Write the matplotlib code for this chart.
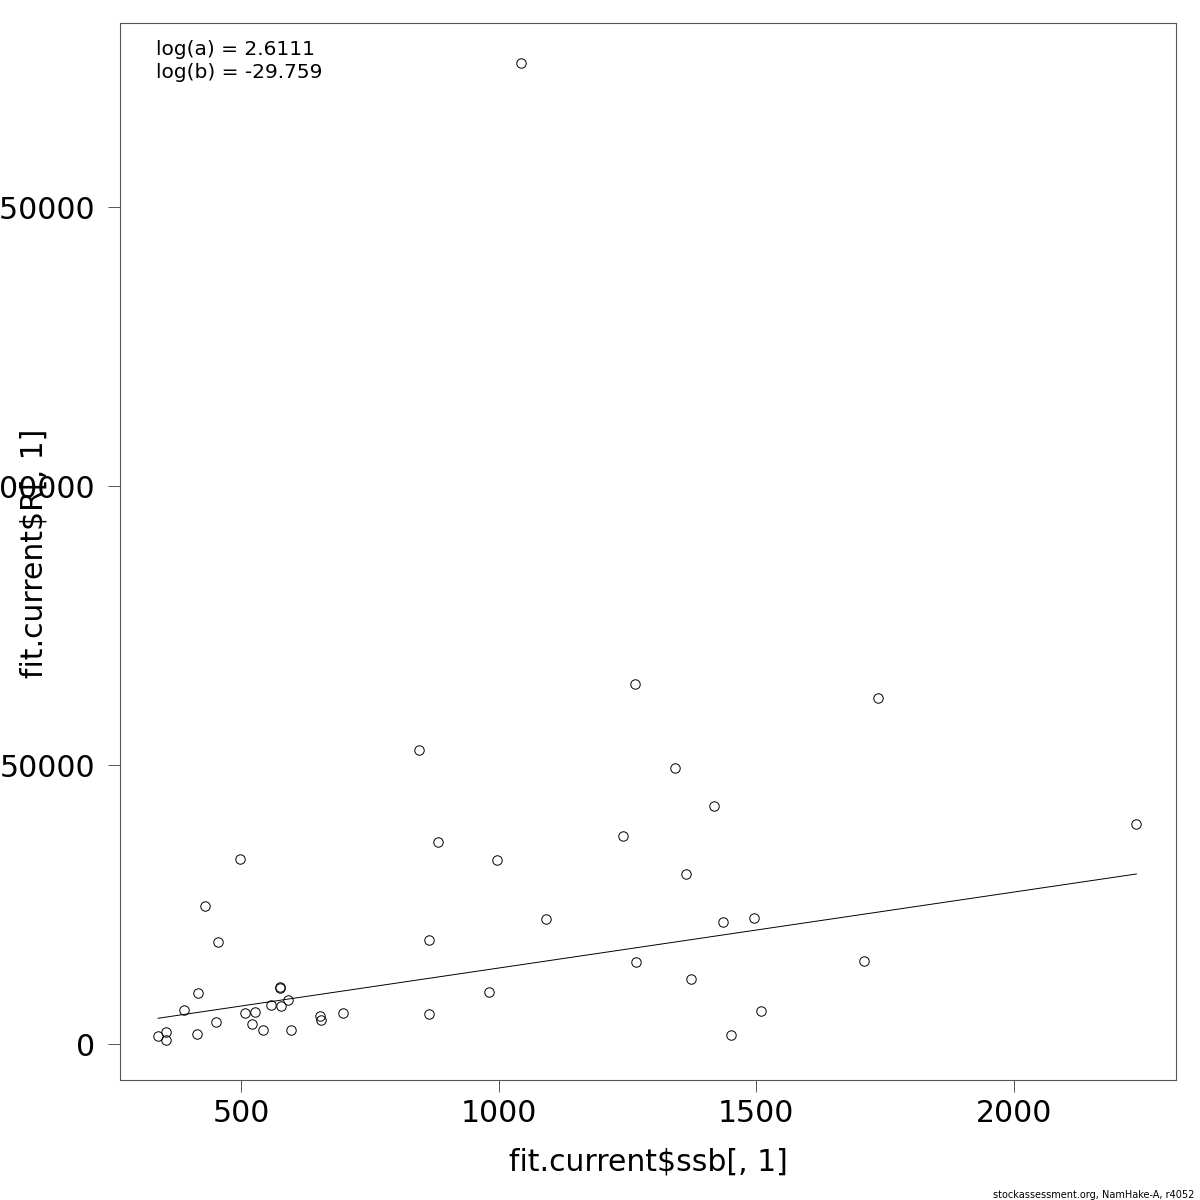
import matplotlib
matplotlib.use("Agg")
import matplotlib.pyplot as plt
import numpy as np

# spawning stock biomass and recruitment
ssb = [1044, 1265, 1737, 846, 1343, 1418, 2238, 1242, 882, 498,
       997, 1364, 430, 1092, 1496, 1436, 455, 865, 1267, 1710,
       1374, 576, 575, 981, 416, 591, 558, 578, 389, 1510,
       508, 527, 698, 865, 653, 655, 451, 521, 543, 597,
       354, 414, 339, 1451, 354]
rec = [175800, 64500, 62000, 52700, 49460, 42650, 39420, 37270, 36200, 33150,
       32970, 30460, 24730, 22400, 22580, 21860, 18280, 18640, 14700, 14870,
       11650, 10270, 10035, 9320, 9140, 7880, 6990, 6810, 6090, 5910,
       5560, 5730, 5560, 5380, 5020, 4300, 3940, 3580, 2510, 2510,
       2150, 1790, 1430, 1610, 720]

log_a = 2.6111
log_b = -29.759

xticks = [500, 1000, 1500, 2000]
yticks = [0, 50000, 100000, 150000]

fig = plt.figure(figsize=(12, 12), dpi=100)
ax = fig.add_axes([0.1, 0.1, 0.88, 0.8808])

ax.plot(ssb, rec, "o", mfc="none", mec="black", ms=6.8, mew=0.7)

# Ricker fit
s = np.sort(np.array(ssb, dtype=float))
r_fit = np.exp(log_a) * s * np.exp(-np.exp(log_b) * s)
ax.plot(s, r_fit, color="black", lw=0.7)

ax.set_xlim(265, 2315)
ax.set_ylim(-6450, 182970)
ax.set_xticks(xticks)
ax.set_yticks(yticks)
ax.set_xticklabels([str(v) for v in xticks])
ax.set_yticklabels([str(v) for v in yticks])
ax.tick_params(axis="both", length=8.6, width=0.7, color="#555555",
               labelsize=21.5)
ax.tick_params(axis="x", pad=5)
ax.tick_params(axis="y", pad=9)
for sp in ax.spines.values():
    sp.set_color("#555555")
    sp.set_linewidth(0.8)

ax.set_xlabel("fit.current$ssb[, 1]", fontsize=21.5, labelpad=14)
fig.text(0.028, 0.5392, "fit.current$R[, 1]", rotation=90, fontsize=21.5,
         ha="center", va="center")

ax.text(0.034, 0.984, "log(a) = 2.6111\nlog(b) = -29.759", transform=ax.transAxes,
        fontsize=14.5, va="top", ha="left", linespacing=1.25)

fig.text(0.995, 0.0, "stockassessment.org, NamHake-A, r4052", fontsize=7,
         ha="right", va="bottom")

fig.savefig("out.png", dpi=100)
